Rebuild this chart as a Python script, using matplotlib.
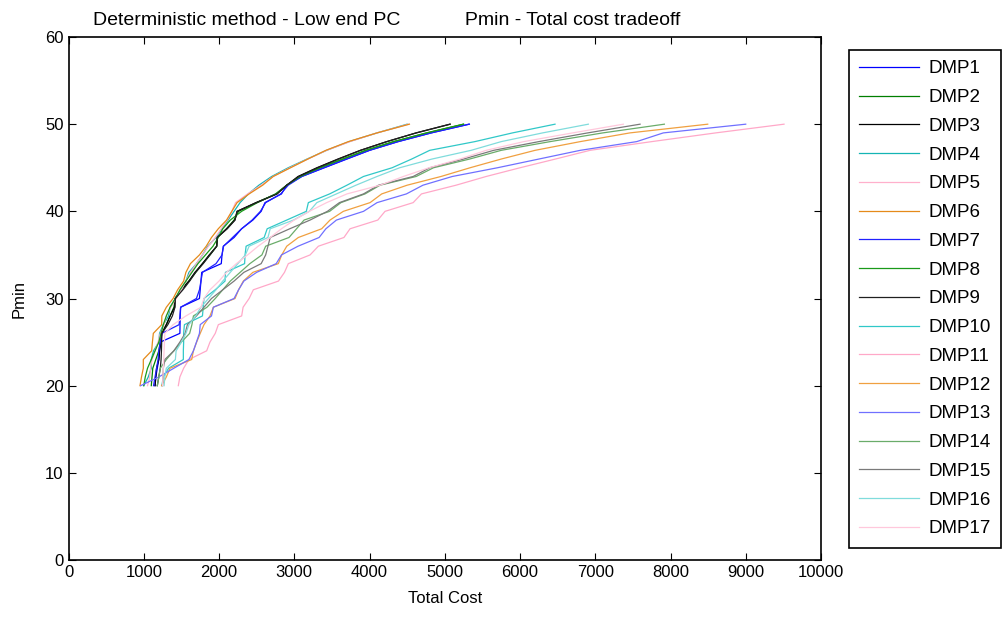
import matplotlib
matplotlib.use("Agg")
import matplotlib.pyplot as plt

plt.rcParams['font.family'] = ['Liberation Sans', 'DejaVu Sans']

# Pmin levels shared by every DMP run
pmin = list(range(20, 51))

# total cost for each Pmin level
dmp1 = [1150, 1160, 1180, 1200, 1210, 1220, 1480, 1482, 1485, 1490, 1740, 1750, 1760, 1770, 2030, 2040,
        2057, 2200, 2300, 2450, 2560, 2611, 2830, 2900, 3100, 3400, 3700, 4000, 4380, 4820, 5327]
dmp2 = [1100, 1110, 1120, 1160, 1200, 1220, 1240, 1300, 1350, 1400, 1420, 1500, 1600, 1690, 1780, 1880,
        1970, 1980, 2100, 2200, 2260, 2500, 2760, 2900, 3080, 3350, 3650, 3950, 4320, 4760, 5247]
dmp3 = [1150, 1160, 1170, 1200, 1210, 1230, 1240, 1300, 1350, 1410, 1415, 1500, 1600, 1680, 1780, 1870,
        1970, 1975, 2100, 2210, 2240, 2490, 2770, 2900, 3050, 3300, 3580, 3880, 4230, 4620, 5070]
dmp4 = [1000, 1060, 1100, 1100, 1130, 1200, 1210, 1260, 1330, 1350, 1420, 1500, 1560, 1600, 1700, 1780,
        1850, 1960, 2040, 2120, 2200, 2280, 2390, 2530, 2700, 2920, 3170, 3430, 3730, 4100, 4500]
dmp5 = [1050, 1080, 1090, 1110, 1150, 1190, 1220, 1270, 1300, 1360, 1430, 1500, 1560, 1620, 1700, 1780,
        1860, 1950, 2030, 2110, 2170, 2220, 2380, 2560, 2720, 2940, 3180, 3430, 3740, 4100, 4520]
dmp6 = [950, 970, 994, 994, 1105, 1115, 1127, 1238, 1240, 1300, 1390, 1450, 1530, 1560, 1620, 1740,
        1830, 1900, 1990, 2100, 2170, 2240, 2400, 2580, 2720, 2950, 3180, 3420, 3720, 4100, 4530]
dmp7 = [1130, 1150, 1170, 1190, 1200, 1220, 1240, 1470, 1480, 1490, 1700, 1740, 1760, 1780, 1960, 2040,
        2060, 2180, 2300, 2440, 2550, 2620, 2820, 2920, 3100, 3390, 3690, 4000, 4380, 4820, 5320]
dmp8 = [1000, 1020, 1050, 1100, 1150, 1200, 1230, 1260, 1300, 1350, 1420, 1480, 1560, 1640, 1720, 1820,
        1920, 1990, 2050, 2150, 2300, 2510, 2750, 2900, 3080, 3340, 3640, 3950, 4320, 4760, 5250]
dmp9 = [1180, 1200, 1220, 1230, 1235, 1238, 1240, 1320, 1380, 1415, 1420, 1520, 1610, 1690, 1790, 1880,
        1969, 1975, 2110, 2213, 2240, 2500, 2770, 2900, 3060, 3310, 3590, 3880, 4230, 4620, 5070]
dmp10 = [1240, 1260, 1330, 1526, 1526, 1530, 1530, 1540, 1780, 1790, 1800, 1950, 2080, 2085, 2340, 2346,
         2360, 2600, 2640, 2900, 3160, 3187, 3470, 3700, 3920, 4300, 4560, 4800, 5400, 5900, 6465]
dmp11 = [1459, 1480, 1530, 1600, 1836, 1880, 1950, 1991, 2301, 2320, 2400, 2456, 2790, 2870, 2921, 3210,
         3320, 3660, 3741, 4110, 4206, 4580, 4690, 5150, 5550, 6000, 6470, 6930, 7750, 8600, 9508]
dmp12 = [1238, 1300, 1349, 1637, 1660, 1703, 1750, 1800, 1880, 1925, 2213, 2260, 2323, 2450, 2788, 2833,
         2900, 3054, 3364, 3475, 3652, 4007, 4162, 4500, 4950, 5336, 5750, 6200, 6800, 7460, 8494]
dmp13 = [959, 1200, 1400, 1600, 1660, 1700, 1740, 1750, 1900, 1925, 2200, 2260, 2330, 2500, 2760, 2830,
         3050, 3330, 3420, 3560, 3920, 4100, 4490, 4710, 5100, 5700, 6250, 6800, 7550, 7904, 8999]
dmp14 = [1180, 1200, 1220, 1300, 1400, 1500, 1610, 1640, 1660, 1840, 1950, 2050, 2150, 2280, 2410, 2570,
         2620, 2930, 3030, 3130, 3470, 3620, 3940, 4140, 4620, 4850, 5330, 5750, 6400, 7100, 7918]
dmp15 = [1250, 1255, 1260, 1280, 1400, 1480, 1550, 1580, 1700, 1800, 1900, 2050, 2200, 2330, 2560, 2620,
         2650, 2680, 2940, 3210, 3440, 3600, 3920, 4120, 4580, 4800, 5250, 5650, 6250, 6900, 7595]
dmp16 = [1270, 1280, 1300, 1420, 1430, 1500, 1560, 1600, 1690, 1760, 1860, 1960, 2050, 2150, 2250, 2350,
         2400, 2650, 2680, 2990, 3200, 3300, 3560, 3820, 4100, 4400, 4830, 5350, 5750, 6300, 6908]
dmp17 = [1250, 1255, 1260, 1265, 1270, 1275, 1280, 1390, 1560, 1760, 1800, 1880, 2000, 2100, 2230, 2380,
         2520, 2680, 2830, 3000, 3200, 3430, 3700, 4140, 4450, 4790, 5200, 5550, 6050, 6700, 7373]

costs = [dmp1, dmp2, dmp3, dmp4, dmp5, dmp6, dmp7, dmp8, dmp9,
         dmp10, dmp11, dmp12, dmp13, dmp14, dmp15, dmp16, dmp17]
labels = ['DMP%d' % (i + 1) for i in range(len(costs))]
colors = ['#0000ff', '#007f00', '#000000', '#14b4b4', '#ffb0cc', '#e58a1a',
          '#2020ff', '#1a9a1a', '#202020', '#30c8c8', '#ffa8c8', '#f0a040',
          '#7070ff', '#6aac6a', '#7a7a7a', '#80dcdc', '#ffc8dc']

fig = plt.figure(figsize=(10.03, 6.17), dpi=100)
ax = fig.add_axes([0.0683, 0.0924, 0.7503, 0.8476])

for cost, label, color in zip(costs, labels, colors):
    ax.plot(cost, pmin, color=color, linewidth=0.9, label=label)

ax.set_xlim(0, 10000)
ax.set_ylim(0, 60)
ax.set_xticks(range(0, 10001, 1000))
ax.set_yticks(range(0, 61, 10))
ax.tick_params(direction='in', top=True, right=True, length=5, width=0.8, labelsize=12)
for spine in ax.spines.values():
    spine.set_linewidth(1.2)

ax.set_xlabel('Total Cost', fontsize=12, labelpad=8)
ax.set_ylabel('Pmin', fontsize=12, labelpad=13)
ax.set_title('Deterministic method - Low end PC            Pmin - Total cost tradeoff',
             fontsize=14, pad=9, x=0.423)

leg = ax.legend(loc='upper left', bbox_to_anchor=(849 / 1003, 1 - 50 / 617),
                bbox_transform=fig.transFigure, borderaxespad=0, fontsize=13.5,
                handlelength=3.2, handletextpad=0.5, labelspacing=0.62,
                borderpad=0.55, fancybox=False, framealpha=1)
leg.get_frame().set_edgecolor('black')
leg.get_frame().set_linewidth(1.2)

fig.savefig('out.png', dpi=100)
